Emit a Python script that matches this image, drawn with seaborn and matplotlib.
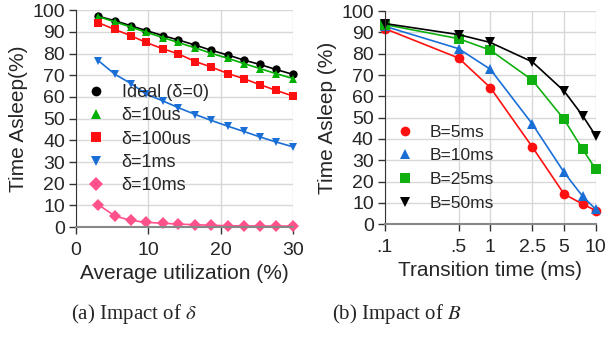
import numpy as np
import pandas as pd
import matplotlib
matplotlib.use('Agg')
import matplotlib.pyplot as plt
import seaborn as sns

# (a) 平均利用率 vs スリープ時間
util = [3.1, 5.4, 7.6, 9.7, 12.0, 14.1, 16.5, 18.6, 21.0, 23.2, 25.4, 27.6, 30.0]
ideal = [97.2, 95.1, 92.8, 90.6, 88.3, 86.3, 83.9, 81.6, 79.3, 77.0, 75.0, 72.7, 70.4]
d10us = [97.0, 94.6, 92.2, 89.8, 87.4, 85.1, 82.6, 80.2, 77.8, 75.4, 73.1, 70.8, 68.5]
d100us = [94.2, 91.1, 88.2, 85.1, 82.2, 79.9, 76.3, 73.9, 70.8, 68.4, 65.7, 63.1, 60.4]
d1ms = [76.7, 70.4, 66.2, 61.3, 58.2, 55.1, 51.9, 49.3, 46.5, 44.1, 41.6, 39.3, 37.0]
d10ms = [10.3, 5.1, 3.1, 2.2, 1.8, 1.4, 1.1, 0.9, 0.6, 0.6, 0.5, 0.5, 0.5]

# (b) 遷移時間 vs スリープ時間
trans = [0.1, 0.5, 1, 2.5, 5, 7.5, 10]
trans_ticks = [0.1, 0.5, 1, 2.5, 5, 10]
trans_labels = ['.1', '.5', '1', '2.5', '5', '10']
b5 = [91.8, 78.0, 64.1, 36.2, 14.1, 9.4, 6.3]
b10 = [92.9, 82.4, 72.7, 47.0, 24.3, 13.0, 6.9]
b25 = [93.7, 87.1, 81.7, 67.6, 49.2, 35.1, 25.7]
b50 = [94.2, 89.0, 85.3, 76.2, 62.5, 50.9, 41.4]

sns.set_style('white')
plt.rcParams['font.family'] = ['Liberation Sans', 'DejaVu Sans']
plt.rcParams['mathtext.fontset'] = 'stix'

names_a = ['Ideal (δ=0)', 'δ=10us', 'δ=100us', 'δ=1ms', 'δ=10ms']
df_a = pd.DataFrame({
    'x': util * 5,
    'y': ideal + d10us + d100us + d1ms + d10ms,
    's': [n for n in names_a for _ in util],
})
names_b = ['B=5ms', 'B=10ms', 'B=25ms', 'B=50ms']
df_b = pd.DataFrame({
    'x': trans * 4,
    'y': b5 + b10 + b25 + b50,
    's': [n for n in names_b for _ in trans],
})

pal_a = dict(zip(names_a, ['#000000', '#00b000', '#ff1010', '#1a6fd6', '#ff528a']))
mk_a = dict(zip(names_a, ['o', '^', 's', 'v', 'D']))
pal_b = dict(zip(names_b, ['#ff1010', '#1a6fd6', '#10b010', '#000000']))
mk_b = dict(zip(names_b, ['o', '^', 's', 'v']))

fig = plt.figure(figsize=(6.08, 3.39), dpi=100)
ax1 = fig.add_axes([0.125, 0.330, 0.357, 0.640])
ax2 = fig.add_axes([0.633, 0.339, 0.347, 0.628])

sns.lineplot(data=df_a, x='x', y='y', hue='s', style='s', palette=pal_a,
             markers=mk_a, dashes=False, markersize=6, markeredgewidth=0,
             linewidth=1.2, ax=ax1)
sns.lineplot(data=df_b, x='x', y='y', hue='s', style='s', palette=pal_b,
             markers=mk_b, dashes=False, markersize=7, markeredgewidth=0,
             linewidth=1.2, ax=ax2)

for ax in (ax1, ax2):
    ax.set_ylim(0, 100)
    ax.set_yticks(range(0, 101, 10))
    ax.grid(True, color='#d8d8d8', linewidth=1.0)
    ax.set_axisbelow(True)
    for side in ('top', 'right'):
        ax.spines[side].set_visible(False)
    ax.spines['left'].set_color('#333333')
    ax.spines['bottom'].set_color('#888888')
    ax.spines['bottom'].set_linewidth(1.5)
    ax.tick_params(axis='both', direction='out', length=5, width=1,
                   color='#333333', labelsize=14, pad=3, left=True, bottom=True)
    ax.tick_params(axis='x', pad=6)
    for line in ax.get_lines():
        line.set_clip_on(False)

ax1.set_xlim(0, 30)
ax1.set_xticks([0, 10, 20, 30])
ax1.set_xlabel('Average utilization (%)', fontsize=15, labelpad=3)
ax1.set_ylabel('Time Asleep(%)', fontsize=15, labelpad=3)

ax2.set_xscale('log')
ax2.set_xlim(0.1, 10)
ax2.set_xticks(trans_ticks)
ax2.set_xticklabels(trans_labels)
ax2.minorticks_off()
ax2.set_xlabel('Transition time (ms)', fontsize=15, labelpad=3)
ax2.set_ylabel('Time Asleep (%)', fontsize=15, labelpad=3)

# 凡例はマーカーのみ
legend_opts = (
    (ax1, (0.01, 0.11), 13, 0.35),
    (ax2, (0.015, 0.02), 12.5, 0.5),
)
for ax, anchor, fs, sp in legend_opts:
    handles, labels = ax.get_legend_handles_labels()
    for h in handles:
        h.set_linestyle('')
        h.set_markersize(7)
    ax.legend(handles, labels, loc='lower left', bbox_to_anchor=anchor,
              frameon=False, fontsize=fs, handlelength=1.0, handletextpad=0.9,
              labelspacing=sp, borderpad=0)

fig.text(0.22, 0.06, r'(a) Impact of $\delta$', ha='center', va='baseline',
         fontsize=15, family='Liberation Serif')
fig.text(0.652, 0.06, r'(b) Impact of $B$', ha='center', va='baseline',
         fontsize=15, family='Liberation Serif')

fig.savefig('out.png', dpi=100)
